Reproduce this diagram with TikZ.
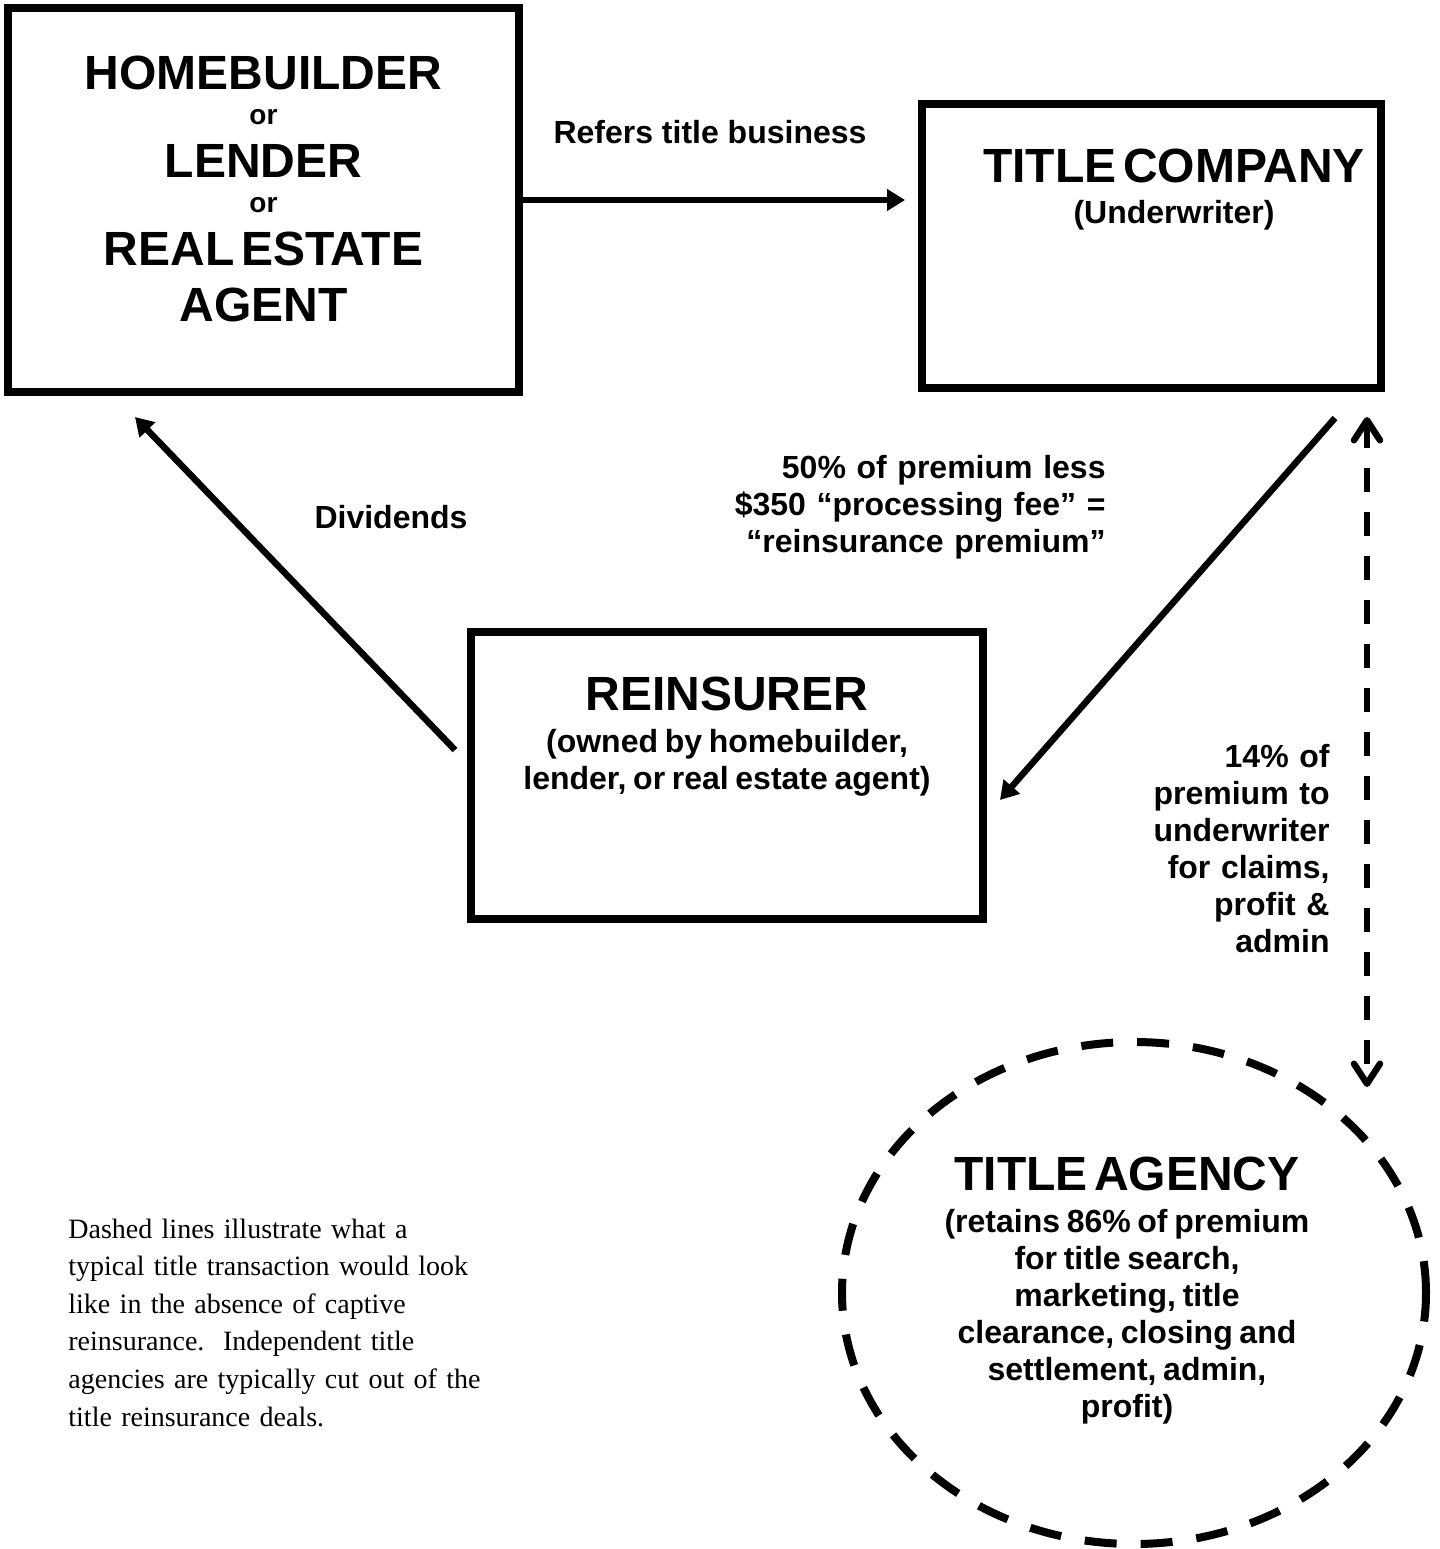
\documentclass[tikz,border=0pt]{standalone}
\usepackage{fontspec}
\setmainfont{Liberation Sans}
\newfontfamily\notefont{Liberation Serif}
\usetikzlibrary{arrows.meta,calc,shapes.geometric}

\newcommand{\bigline}[1]{{\fontsize{24}{26.5}\selectfont #1\par}}
\newcommand{\orline}[1]{{\fontsize{14}{17.5}\selectfont #1\par}}
\newcommand{\subline}[1]{{\fontsize{16}{18.5}\selectfont #1\par}}

\begin{document}
\begin{tikzpicture}[x=0.5pt,y=-0.5pt,
    box/.style={draw, line width=4pt, inner sep=0pt},
    boxtext/.style={anchor=base, inner sep=0pt, text width=250pt, align=center, font=\bfseries},
    note/.style={inner sep=0pt, font={\bfseries\fontsize{16}{18.5}\selectfont}},
    flow/.style={line width=3.25pt, -{Triangle[length=9pt,width=10.5pt]}},
    back/.style={line width=3.25pt, dash pattern=on 12pt off 10pt,
      {Straight Barb[length=10pt,width=13pt,round]}-{Straight Barb[length=10pt,width=13pt,round]}}]
    \useasboundingbox (0,0) rectangle (1440,1549);

    \node[box, minimum width=255.5pt, minimum height=192pt] (builder) at (263.5,200) {};
    \node[box, minimum width=229.5pt, minimum height=142pt] (title) at (1151.5,246) {};
    \node[box, minimum width=256pt, minimum height=143.5pt] (reins) at (727,775.5) {};
    \node[ellipse, draw, line width=4pt, dash pattern=on 16pt off 12pt, inner sep=0pt,
      minimum width=292pt, minimum height=251pt] (agency) at (1134,1293) {};

    \node[boxtext] (buildertxt) at (263.5,89) {\bigline{HOMEBUILDER}\orline{or}\bigline{LENDER}%
      \orline{or}\bigline{REAL ESTATE}\vspace{1.5pt}\bigline{AGENT}};
    \node[boxtext] (titletxt) at (1174,182) {\bigline{TITLE COMPANY}\vspace{2pt}\subline{(Underwriter)}};
    \node[boxtext] (reinstxt) at (727,710) {\bigline{REINSURER}\vspace{2.5pt}%
      \subline{(owned by homebuilder,\\lender, or real estate agent)}};
    \node[boxtext] (agencytxt) at (1127,1190) {\bigline{TITLE AGENCY}\vspace{2.5pt}%
      \subline{(retains 86\% of premium\\for title search,\\marketing, title\\clearance, closing and\\settlement, admin,\\profit)}};

    \node[note, anchor=base] (refers) at (710,143) {Refers title business};
    \node[note, anchor=base] (dividends) at (391,528) {Dividends};
    \node[note, anchor=base east, text width=250pt, align=right] (cut) at (1106,478)
      {50\% of premium less\\\$350 “processing fee” =\\“reinsurance premium”};
    \node[note, anchor=base east, text width=100pt, align=right] (share) at (1330,767)
      {14\% of\\premium to\\underwriter\\for claims,\\profit \&\\admin};
    \node[inner sep=0pt, anchor=base west, text width=240pt, align=left,
      font={\notefont\fontsize{14}{18.8}\selectfont}] (footnote) at (68,1238)
      {Dashed lines illustrate what a\\typical title transaction would look\\like in the absence of captive\\reinsurance.~~Independent title\\agencies are typically cut out of the\\title reinsurance deals.};

    \draw[flow] (builder.east) -- ($(builder.east -| title.west)+(-13,0)$);
    \draw[flow] ($(title.south)+(183.5,26)$) -- ($(reins.east)+(13,24.5)$);
    \draw[flow] ($(reins.west)+(-12,-25.5)$) -- ($(builder.south west)+(131,21)$);
    \draw[back] ($(title.south)+(215.5,25)$) -- ($(agency.north)+(233,49)$);
\end{tikzpicture}
\end{document}
